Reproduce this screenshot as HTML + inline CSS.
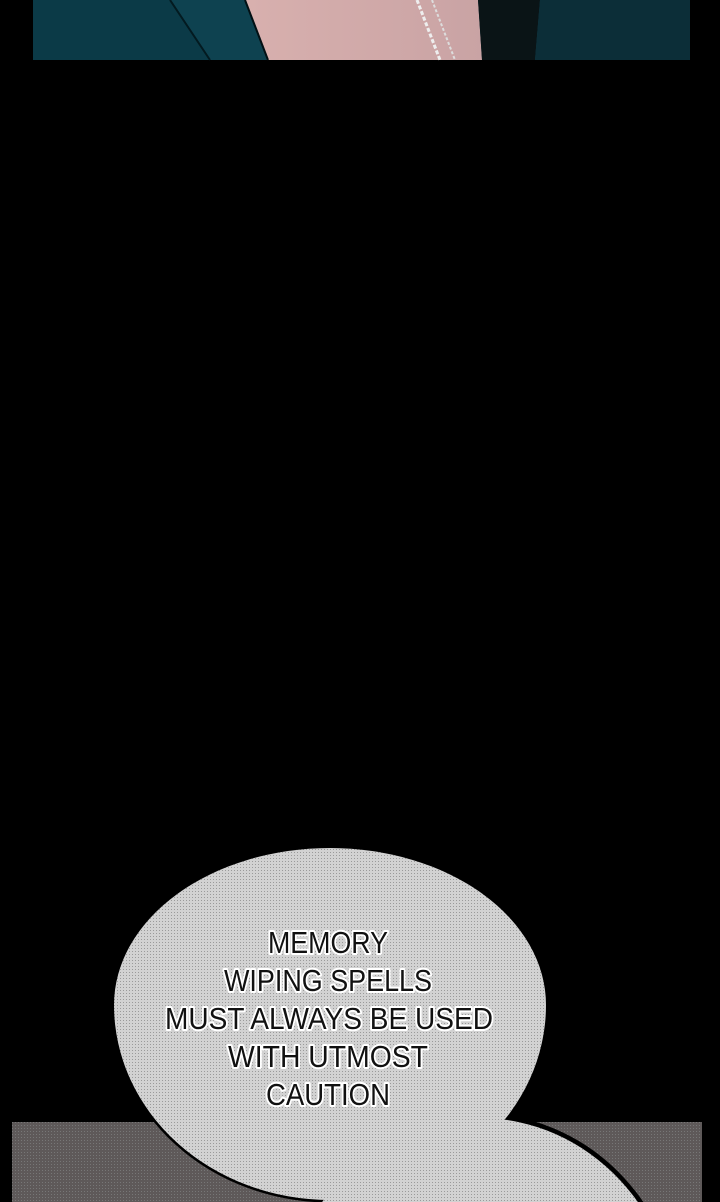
<!DOCTYPE html>
<html><head><style>
html,body{margin:0;padding:0;background:#000;width:720px;height:1202px;overflow:hidden;}
svg{display:block;overflow:hidden;}
</style></head><body>
<svg width="720" height="1202" viewBox="0 0 720 1202" xmlns="http://www.w3.org/2000/svg">
<defs>
<linearGradient id="skin" x1="0" y1="0" x2="1" y2="0">
<stop offset="0" stop-color="#d8b0ae"/><stop offset="1" stop-color="#c9a3a4"/>
</linearGradient>
<pattern id="dots" width="3" height="3" patternUnits="userSpaceOnUse">
<rect width="3" height="3" fill="#d2d2d2"/><rect width="1" height="1" fill="#9a9a9a"/>
</pattern>
<pattern id="dots2" width="3" height="3" patternUnits="userSpaceOnUse">
<rect width="3" height="3" fill="#5e5959"/><rect width="1" height="1" fill="#777"/>
</pattern>
<clipPath id="c"><rect width="720" height="1202"/></clipPath>
</defs>
<g clip-path="url(#c)">
<rect width="720" height="1202" fill="#000"/>
<rect x="33" y="0" width="657" height="60" fill="#0e4250"/>
<polygon points="33,0 170,0 210,60 33,60" fill="#0b3a47"/>
<polygon points="245,0 478,0 482,60 268,60" fill="url(#skin)"/>
<polygon points="478,0 540,0 535,60 482,60" fill="#0a1416"/>
<polygon points="540,0 690,0 690,60 535,60" fill="#0c2e38"/>
<line x1="170" y1="0" x2="210" y2="60" stroke="#031a20" stroke-width="2"/>
<line x1="245" y1="0" x2="268" y2="60" stroke="#021014" stroke-width="2"/>
<line x1="417" y1="0" x2="440" y2="60" stroke="#eee" stroke-width="3" stroke-dasharray="4 2"/>
<line x1="432" y1="0" x2="455" y2="60" stroke="#ddd" stroke-width="2" stroke-dasharray="3 2"/>
<rect x="12" y="1122" width="690" height="80" fill="url(#dots2)"/>
<g stroke="#000" stroke-width="5" fill="#000">
<path d="M114,1005 A216,157 0 0 1 546,1005 A216,195 0 0 1 114,1005 Z"/>
<ellipse cx="480" cy="1330" rx="200" ry="214"/>
</g>
<g fill="url(#dots)">
<path d="M114,1005 A216,157 0 0 1 546,1005 A216,195 0 0 1 114,1005 Z"/>
<ellipse cx="480" cy="1330" rx="198" ry="212"/>
</g>
<g font-family="'Liberation Sans Narrow','Liberation Sans',sans-serif" font-size="31" fill="#111" stroke="#fff" stroke-width="4" paint-order="stroke" text-anchor="middle" stroke-linejoin="round">
<text x="328" y="953" textLength="120" lengthAdjust="spacingAndGlyphs">MEMORY</text>
<text x="328" y="991" textLength="208" lengthAdjust="spacingAndGlyphs">WIPING SPELLS</text>
<text x="329" y="1029" textLength="328" lengthAdjust="spacingAndGlyphs">MUST ALWAYS BE USED</text>
<text x="328" y="1067" textLength="200" lengthAdjust="spacingAndGlyphs">WITH UTMOST</text>
<text x="328" y="1105" textLength="124" lengthAdjust="spacingAndGlyphs">CAUTION</text>
</g>
</g>
</svg>
</body></html>
